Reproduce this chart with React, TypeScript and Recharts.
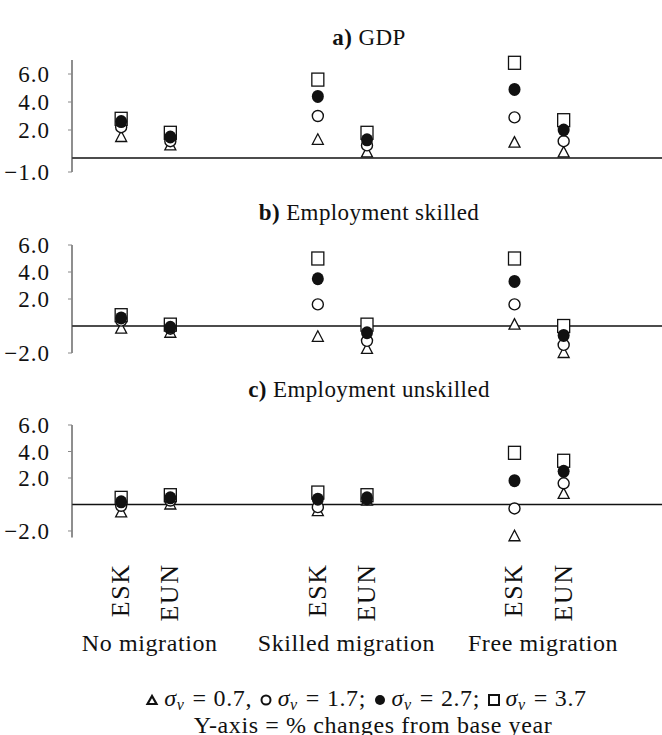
import { ScatterChart, Scatter, XAxis, YAxis, ReferenceLine } from 'recharts';

// x positions of the six region columns, grouped by scenario
const positions = [1, 2, 5, 6, 9, 10];
const regions = ['ESK', 'EUN', 'ESK', 'EUN', 'ESK', 'EUN'];
const scenarioPositions = [1.5, 5.5, 9.5];
const scenarios = ['No migration', 'Skilled migration', 'Free migration'];

// a) GDP, % change
const gdpS07 = [1.5, 0.9, 1.3, 0.4, 1.1, 0.4];
const gdpS17 = [2.2, 1.2, 3.0, 0.9, 2.9, 1.2];
const gdpS27 = [2.6, 1.5, 4.4, 1.3, 4.9, 2.0];
const gdpS37 = [2.8, 1.8, 5.6, 1.8, 6.8, 2.7];

// b) Employment skilled
const skS07 = [-0.2, -0.5, -0.8, -1.7, 0.1, -2.0];
const skS17 = [0.4, -0.2, 1.6, -1.1, 1.6, -1.4];
const skS27 = [0.6, -0.1, 3.5, -0.5, 3.3, -0.7];
const skS37 = [0.8, 0.1, 5.0, 0.1, 5.0, 0.0];

// c) Employment unskilled
const unS07 = [-0.6, 0.0, -0.5, 0.3, -2.4, 0.8];
const unS17 = [-0.1, 0.3, -0.2, 0.4, -0.3, 1.6];
const unS27 = [0.2, 0.5, 0.4, 0.5, 1.8, 2.5];
const unS37 = [0.5, 0.7, 0.9, 0.7, 3.9, 3.3];

const ticksA = [-1, 2, 4, 6];
const ticksBC = [-2, 2, 4, 6];

const FONT = '"Liberation Serif", "Times New Roman", serif';
const INK = '#111';
const PAD = 16;

const fmt = (v: number) => (v < 0 ? '\u2212' + Math.abs(v).toFixed(1) : v.toFixed(1));

const toPoints = (vals: number[]) => positions.map((x, i) => ({ x, y: vals[i] }));
const scenarioPoints = scenarioPositions.map((x) => ({ x, y: 0 }));

const triangle = (p: any) => (
    <polygon
        points={`${p.cx},${p.cy - 6} ${p.cx - 5.5},${p.cy + 4.5} ${p.cx + 5.5},${p.cy + 4.5}`}
        fill="#fff" stroke={INK} strokeWidth={1.3}
    />
);
const openCircle = (p: any) => <circle cx={p.cx} cy={p.cy} r={5.5} fill="#fff" stroke={INK} strokeWidth={1.4} />;
const dot = (p: any) => <ellipse cx={p.cx} cy={p.cy} rx={6} ry={6.5} fill={INK} />;
const square = (p: any) => <rect x={p.cx - 6} y={p.cy - 6.5} width={12} height={13} fill="#fff" stroke={INK} strokeWidth={1.3} />;
const nothing = () => <g />;

function RegionTick({ x, y, payload, index }: any) {
    return (
        <text
            transform={`translate(${x + 8},${y + 18}) rotate(-90)`}
            textAnchor="end"
            fontFamily={FONT}
            fontSize={26}
            letterSpacing={1.5}
            fill={INK}
        >
            {regions[index] ?? payload.value}
        </text>
    );
}

function ScenarioTick({ x, y, index }: any) {
    return (
        <text x={x + 4} y={y + 5} textAnchor="middle" fontFamily={FONT} fontSize={24} letterSpacing={0.6} fill={INK}>
            {scenarios[index]}
        </text>
    );
}

function Panel({ plotTop, plotHeight, domain, ticks, series, withAxis }: any) {
    const bottom = withAxis ? 150 : PAD;
    return (
        <div style={{ position: 'absolute', left: 0, top: plotTop - PAD }}>
            <ScatterChart width={662} height={PAD + plotHeight + bottom} margin={{ top: PAD, right: 0, bottom: withAxis ? 0 : PAD, left: 0 }}>
                <XAxis
                    type="number" dataKey="x" domain={[0, 12]} ticks={positions} interval={0}
                    hide={!withAxis} axisLine={false} tickLine={false} height={withAxis ? 100 : 0}
                    tick={<RegionTick />}
                />
                {withAxis && (
                    <XAxis
                        xAxisId="scen" type="number" dataKey="x" domain={[0, 12]} ticks={scenarioPositions} interval={0}
                        axisLine={false} tickLine={false} height={50} tick={<ScenarioTick />}
                    />
                )}
                <YAxis
                    type="number" dataKey="y" domain={domain} ticks={ticks} interval={0} width={72}
                    axisLine={{ stroke: '#444', strokeWidth: 1.2 }} tickLine={{ stroke: '#888' }} tickSize={4} tickMargin={18}
                    tickFormatter={fmt}
                    tick={{ fill: INK, fontFamily: FONT, fontSize: 23, letterSpacing: 1 }}
                />
                <ReferenceLine y={0} stroke={INK} strokeWidth={1.4} />
                <Scatter data={toPoints(series[0])} shape={triangle} isAnimationActive={false} />
                <Scatter data={toPoints(series[1])} shape={openCircle} isAnimationActive={false} />
                <Scatter data={toPoints(series[3])} shape={square} isAnimationActive={false} />
                <Scatter data={toPoints(series[2])} shape={dot} isAnimationActive={false} />
                {withAxis && <Scatter xAxisId="scen" data={scenarioPoints} shape={nothing} isAnimationActive={false} />}
            </ScatterChart>
        </div>
    );
}

function Title({ top, tag, text }: { top: number; tag: string; text: string }) {
    return (
        <div style={{ position: 'absolute', top, left: 72, width: 594, textAlign: 'center', fontSize: 23, letterSpacing: 0.4, lineHeight: '24px' }}>
            <b>{tag}</b> {text}
        </div>
    );
}

const Sigma = () => (
    <span style={{ margin: '0 6px 0 3px' }}>
        <i>σ</i><sub style={{ fontSize: 16, fontStyle: 'italic', verticalAlign: '-4px' }}>v</sub>
    </span>
);

const Eq = () => <span style={{ margin: '0 7px 0 2px' }}>=</span>;

const Sym = ({ children }: any) => (
    <svg width={14} height={14} style={{ verticalAlign: '-1px', marginRight: 2 }}>{children}</svg>
);

export default function App() {
    return (
        <div style={{ position: 'absolute', left: 0, top: 0, width: 662, height: 735, background: '#fff', fontFamily: FONT, color: INK }}>
            <Title top={26} tag="a)" text="GDP" />
            <Panel plotTop={60} plotHeight={112} domain={[-1, 7]} ticks={ticksA} series={[gdpS07, gdpS17, gdpS27, gdpS37]} />
            <Title top={201} tag="b)" text="Employment skilled" />
            <Panel plotTop={245} plotHeight={108} domain={[-2, 6]} ticks={ticksBC} series={[skS07, skS17, skS27, skS37]} />
            <Title top={378} tag="c)" text="Employment unskilled" />
            <Panel plotTop={425} plotHeight={112.6} domain={[-2.5, 6]} ticks={ticksBC} series={[unS07, unS17, unS27, unS37]} withAxis />
            <div style={{ position: 'absolute', top: 688, left: 66, width: 600, textAlign: 'center', fontSize: 24, letterSpacing: 0.6, lineHeight: '20px', whiteSpace: 'nowrap' }}>
                <Sym><polygon points="7,3 2.5,11 11.5,11" fill="none" stroke={INK} strokeWidth={2.2} /></Sym>
                <Sigma /><Eq />0.7,{' '}
                <Sym><circle cx={7} cy={7} r={4.5} fill="none" stroke={INK} strokeWidth={2} /></Sym>
                <Sigma /><Eq />1.7;{' '}
                <Sym><circle cx={7} cy={7} r={5} fill={INK} /></Sym>
                <Sigma /><Eq />2.7;{' '}
                <Sym><rect x={2} y={2} width={10} height={10} fill="none" stroke={INK} strokeWidth={2} /></Sym>
                <Sigma /><Eq />3.7
                <div style={{ marginLeft: 14 }}>Y-axis = % changes from base year</div>
            </div>
        </div>
    );
}
